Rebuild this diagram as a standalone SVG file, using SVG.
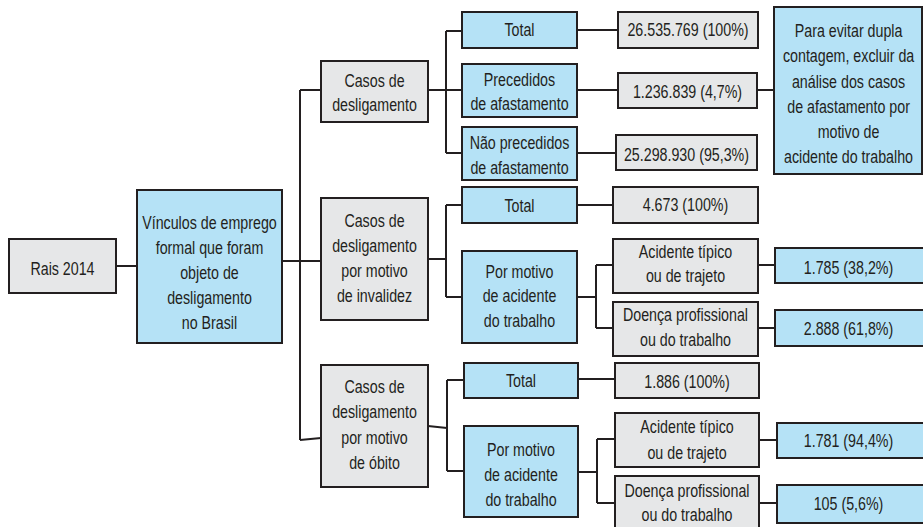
<svg xmlns="http://www.w3.org/2000/svg" width="923" height="527" viewBox="0 0 923 527">
  <style>
    .box { stroke: #231f20; stroke-width: 2; }
    .gray { fill: #e6e7e8; }
    .blue { fill: #b5e2f6; }
    .edge { fill: none; stroke: #231f20; stroke-width: 2; }
    text { font-family: "Liberation Sans", Arial, sans-serif; font-size: 18.5px; fill: #231f20; text-anchor: middle;
           transform-box: fill-box; transform-origin: center; transform: scaleX(0.77); }
  </style>
  <rect width="923" height="527" fill="#ffffff"/>

  <!-- connectors -->
  <g id="connectors">
    <path class="edge" d="M116 266 H137"/>
    <path class="edge" d="M282 261 H300"/>
    <path class="edge" d="M300 90 V440"/>
    <path class="edge" d="M300 90 H321 M300 261 H321 M300 440 L321 438"/>
    <!-- desligamento -->
    <path class="edge" d="M428 90 H446 M446 31 V153 M446 31 H462 M446 90 H462 M446 153 H462"/>
    <path class="edge" d="M577 30 H618 M577 90 H618 M577 153 H616"/>
    <path class="edge" d="M757 90 H774"/>
    <!-- invalidez -->
    <path class="edge" d="M428 259 H446 M446 205 V297 M446 205 H462 M446 297 H462"/>
    <path class="edge" d="M577 205 H613"/>
    <path class="edge" d="M577 297 H596 M596 265 V328 M596 265 H613 M596 328 H613"/>
    <path class="edge" d="M758 265 H775 M758 328 H775"/>
    <!-- obito -->
    <path class="edge" d="M428 426 L447 428 M447 380 V471 M447 380 H464 M447 471 H464"/>
    <path class="edge" d="M578 379 H615"/>
    <path class="edge" d="M578 472 H597 M597 439 V503 M597 439 H615 M597 503 H615"/>
    <path class="edge" d="M759 440 H777 M759 503 H777"/>
  </g>

  <g id="rais">
    <rect class="box gray" x="9" y="239" width="107" height="54"/>
    <text x="62.5" y="275">Rais 2014</text>
  </g>

  <g id="vinculos">
    <rect class="box blue" x="137" y="190" width="145" height="153"/>
    <text x="209.5" y="229">Vínculos de emprego</text>
    <text x="209.5" y="254">formal que foram</text>
    <text x="209.5" y="279">objeto de</text>
    <text x="209.5" y="304">desligamento</text>
    <text x="209.5" y="329">no Brasil</text>
  </g>

  <!-- desligamento branch -->
  <g id="casos-desligamento">
    <rect class="box gray" x="321" y="61" width="107" height="61"/>
    <text x="374.5" y="87">Casos de</text>
    <text x="374.5" y="111">desligamento</text>
  </g>
  <g id="total-1">
    <rect class="box blue" x="462" y="12" width="115" height="36"/>
    <text x="519.5" y="36">Total</text>
  </g>
  <g id="precedidos">
    <rect class="box blue" x="462" y="64" width="115" height="53"/>
    <text x="519.5" y="86">Precedidos</text>
    <text x="519.5" y="110">de afastamento</text>
  </g>
  <g id="nao-precedidos">
    <rect class="box blue" x="462" y="127" width="115" height="53"/>
    <text x="519.5" y="149">Não precedidos</text>
    <text x="519.5" y="174">de afastamento</text>
  </g>
  <g id="valor-total-1">
    <rect class="box gray" x="618" y="12" width="140" height="36"/>
    <text x="688" y="36">26.535.769 (100%)</text>
  </g>
  <g id="valor-precedidos">
    <rect class="box gray" x="618" y="73" width="139" height="35"/>
    <text x="687.5" y="98.5">1.236.839 (4,7%)</text>
  </g>
  <g id="valor-nao-precedidos">
    <rect class="box gray" x="616" y="135" width="141" height="35"/>
    <text x="686.5" y="161.5">25.298.930 (95,3%)</text>
  </g>
  <g id="nota">
    <rect class="box blue" x="774" y="7" width="148" height="167"/>
    <text x="848.5" y="37">Para evitar dupla</text>
    <text x="848.5" y="62">contagem, excluir da</text>
    <text x="848.5" y="88">análise dos casos</text>
    <text x="848.5" y="113">de afastamento por</text>
    <text x="848.5" y="138">motivo de</text>
    <text x="848.5" y="163">acidente do trabalho</text>
  </g>

  <!-- invalidez branch -->
  <g id="casos-invalidez">
    <rect class="box gray" x="321" y="198" width="107" height="122"/>
    <text x="374.5" y="227">Casos de</text>
    <text x="374.5" y="252">desligamento</text>
    <text x="374.5" y="277">por motivo</text>
    <text x="374.5" y="302.5">de invalidez</text>
  </g>
  <g id="total-2">
    <rect class="box blue" x="462" y="187" width="115" height="36"/>
    <text x="519.5" y="212">Total</text>
  </g>
  <g id="acidente-trabalho-2">
    <rect class="box blue" x="462" y="251" width="115" height="92"/>
    <text x="519.5" y="278">Por motivo</text>
    <text x="519.5" y="302.5">de acidente</text>
    <text x="519.5" y="327.5">do trabalho</text>
  </g>
  <g id="valor-total-2">
    <rect class="box gray" x="613" y="187" width="145" height="36"/>
    <text x="685.5" y="211">4.673 (100%)</text>
  </g>
  <g id="tipico-2">
    <rect class="box gray" x="613" y="239" width="145" height="54"/>
    <text x="685.5" y="258">Acidente típico</text>
    <text x="685.5" y="282">ou de trajeto</text>
  </g>
  <g id="doenca-2">
    <rect class="box gray" x="613" y="302" width="145" height="54"/>
    <text x="685.5" y="321.5">Doença profissional</text>
    <text x="685.5" y="346">ou do trabalho</text>
  </g>
  <g id="valor-tipico-2">
    <rect class="box blue" x="775" y="248" width="160" height="35"/>
    <text x="848.5" y="274">1.785 (38,2%)</text>
  </g>
  <g id="valor-doenca-2">
    <rect class="box blue" x="775" y="310" width="160" height="36"/>
    <text x="848.5" y="335">2.888 (61,8%)</text>
  </g>

  <!-- obito branch -->
  <g id="casos-obito">
    <rect class="box gray" x="321" y="365" width="107" height="122"/>
    <text x="374.5" y="393">Casos de</text>
    <text x="374.5" y="418">desligamento</text>
    <text x="374.5" y="444">por motivo</text>
    <text x="374.5" y="469">de óbito</text>
  </g>
  <g id="total-3">
    <rect class="box blue" x="464" y="363" width="114" height="35"/>
    <text x="521" y="387.5">Total</text>
  </g>
  <g id="acidente-trabalho-3">
    <rect class="box blue" x="464" y="426" width="114" height="91"/>
    <text x="521" y="456">Por motivo</text>
    <text x="521" y="481">de acidente</text>
    <text x="521" y="506">do trabalho</text>
  </g>
  <g id="valor-total-3">
    <rect class="box gray" x="615" y="363" width="144" height="35"/>
    <text x="687" y="388">1.886 (100%)</text>
  </g>
  <g id="tipico-3">
    <rect class="box gray" x="615" y="413" width="144" height="54"/>
    <text x="687" y="433">Acidente típico</text>
    <text x="687" y="459.5">ou de trajeto</text>
  </g>
  <g id="doenca-3">
    <rect class="box gray" x="615" y="476" width="144" height="60"/>
    <text x="687" y="497.5">Doença profissional</text>
    <text x="687" y="521.5">ou do trabalho</text>
  </g>
  <g id="valor-tipico-3">
    <rect class="box blue" x="777" y="423" width="160" height="35"/>
    <text x="848.5" y="447">1.781 (94,4%)</text>
  </g>
  <g id="valor-doenca-3">
    <rect class="box blue" x="777" y="485" width="160" height="38"/>
    <text x="848.5" y="510.5">105 (5,6%)</text>
  </g>
</svg>
